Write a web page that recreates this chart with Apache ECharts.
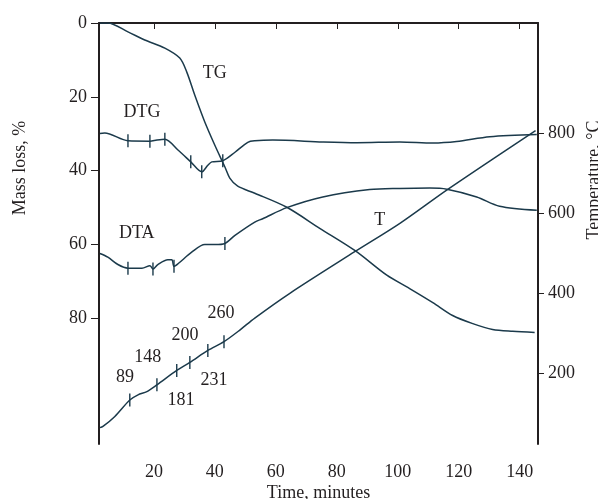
<!DOCTYPE html>
<html>
<head>
<meta charset="utf-8">
<script src="https://cdn.jsdelivr.net/npm/echarts@6/dist/echarts.min.js"></script>
<style>
  html, body { margin: 0; padding: 0; background: #fff; }
  #chart { width: 598px; height: 499px; }
</style>
</head>
<body>
<div id="chart"></div>
<script>
// 曲线数据 [时间(min), 值]
var tgData = [
  [2.3, 0], [4.9, 0], [11.5, 2.4], [17, 4.6], [23.6, 6.8], [28.5, 9.5],
  [30.8, 13.3], [33.4, 19.5], [36.7, 26.8], [40, 33.1], [43.3, 39],
  [44.9, 42], [47.5, 44.2], [53.1, 46.1], [63.6, 49.9], [74.4, 55.6],
  [85.9, 61.6], [96.4, 68.3], [103.9, 71.9], [111.5, 75.7], [118, 79.2],
  [124.6, 81.4], [131.1, 83], [137.7, 83.5], [144.9, 83.8]
];
var dtgData = [
  [2.3, 29.9], [3.9, 29.8], [11.5, 31.9], [18.7, 32], [21, 31.7], [23.6, 31.5],
  [27.9, 34.4], [32.1, 37.6], [35.7, 40.3], [37.7, 38.5], [39, 37.6],
  [42.6, 37.3], [46.6, 35], [50.8, 32.3], [53.1, 31.9], [59, 31.7],
  [75.4, 32.2], [86.6, 32.4], [100.7, 32.2], [111.5, 32.5], [119.3, 32.1],
  [130.2, 30.8], [145.6, 30.2]
];
var dtaData = [
  [2.3, 62.4], [4.9, 63.4], [8.2, 65.4], [11.5, 66.4], [16.1, 66.4], [18.7, 65.7],
  [19.7, 66.6], [21.3, 65.4], [24.6, 64.1], [25.9, 64.1], [26.6, 65.9],
  [27.9, 65.2], [32.5, 62], [36.7, 60], [40, 60], [43.3, 59.7], [46.6, 57.5],
  [53.1, 53.9], [55.7, 53], [63.6, 50], [75.4, 47.1], [90.8, 45.1],
  [100.7, 44.8], [110.5, 44.7], [116.1, 45], [125.9, 47.1], [133.4, 49.6],
  [145.6, 50.7]
];
// 温度 (°C)
var tData = [
  [2.3, 63], [3.3, 66], [7.2, 91], [12.1, 132], [14.8, 145], [17.7, 153],
  [21, 170], [27.5, 206], [31.8, 226], [37.7, 256], [43, 278], [48.2, 307],
  [53.1, 337], [64.6, 399], [85.9, 503], [100.7, 574], [116.4, 659], [145.2, 806]
];

// 曲线上的短竖线标记
var dtgTicks = [[11.5, 31.9], [18.7, 32], [23.6, 31.5], [32.1, 37.6], [35.7, 40.3], [42.6, 37.3]];
var dtaTicks = [[11.5, 66.4], [19.7, 66.6], [26.6, 65.9], [43.3, 59.7]];
var tTicks = [[12.1, 132], [21, 170], [27.5, 206], [31.8, 226], [37.7, 256], [43, 278]];

// 文字标注 [x, y(质量损失坐标), 文本]
var notes = [
  [40, 13.6, 'TG'], [16.1, 24.1, 'DTG'], [14.4, 57, 'DTA'], [94.1, 53.4, 'T'],
  [10.5, 96, '89'], [18, 90.6, '148'], [30.2, 84.6, '200'], [42, 78.6, '260'],
  [28.9, 102.2, '181'], [39.7, 96.8, '231']
];

var xTicks = [20, 40, 60, 80, 100, 120, 140];
var massTicks = [0, 20, 40, 60, 80];
var tempTicks = [200, 400, 600, 800];

var lineColor = '#1b3a4b';
var axisColor = '#231f20';
var font = 'Liberation Serif';

var myChart = echarts.init(document.getElementById('chart'));

function curve(data, yIdx) {
  return {
    type: 'line', data: data, yAxisIndex: yIdx, smooth: 0.3,
    showSymbol: false, silent: true,
    lineStyle: { color: lineColor, width: 1.5 }
  };
}
function ticks(data, yIdx) {
  return {
    type: 'scatter', data: data, yAxisIndex: yIdx, silent: true,
    symbol: 'rect', symbolSize: [1.4, 13],
    itemStyle: { color: lineColor, opacity: 1 }
  };
}

var option = {
  animation: false,
  textStyle: { fontFamily: font },
  grid: { left: 99, right: 60, top: 23, bottom: 55, outerBoundsMode: 'none', containLabel: false },
  xAxis: {
    type: 'value', min: 2, max: 146,
    name: 'Time, minutes', nameLocation: 'middle', nameGap: 40, nameMoveOverlap: false,
    nameTextStyle: { fontFamily: font, fontSize: 18, color: axisColor },
    splitLine: { show: false },
    axisLine: { lineStyle: { color: axisColor, width: 2 } },
    axisTick: { customValues: xTicks, length: 6, lineStyle: { color: axisColor } },
    axisLabel: { customValues: xTicks, margin: 19, fontFamily: font, fontSize: 18, color: axisColor }
  },
  yAxis: [
    {
      type: 'value', inverse: true, min: 0, max: 114, position: 'left',
      splitLine: { show: false },
      axisLine: { show: true, lineStyle: { color: axisColor, width: 2 } },
      axisTick: { show: true, customValues: massTicks, length: 8, lineStyle: { color: axisColor } },
      axisLabel: { customValues: massTicks, margin: 12, fontFamily: font, fontSize: 18, color: axisColor }
    },
    {
      type: 'value', min: 22, max: 1075, position: 'right',
      splitLine: { show: false },
      axisLine: { show: true, lineStyle: { color: axisColor, width: 2 } },
      axisTick: { show: true, customValues: tempTicks, length: 6, lineStyle: { color: axisColor } },
      axisLabel: { customValues: tempTicks, margin: 10, fontFamily: font, fontSize: 18, color: axisColor }
    }
  ],
  graphic: [
    {
      type: 'text', x: 20, y: 168, rotation: Math.PI / 2,
      style: { text: 'Mass loss, %', font: '18px "Liberation Serif"', fill: axisColor,
               textAlign: 'center', textVerticalAlign: 'middle' }
    },
    {
      type: 'text', x: 594, y: 180, rotation: Math.PI / 2,
      style: { text: 'Temperature, °C', font: '18px "Liberation Serif"', fill: axisColor,
               textAlign: 'center', textVerticalAlign: 'middle' }
    }
  ],
  series: [
    curve(tgData, 0),
    curve(dtgData, 0),
    curve(dtaData, 0),
    curve(tData, 1),
    ticks(dtgTicks, 0),
    ticks(dtaTicks, 0),
    ticks(tTicks, 1),
    {
      type: 'scatter', yAxisIndex: 0, silent: true, symbolSize: 0,
      itemStyle: { opacity: 1 },
      data: notes.map(function (n) { return { value: [n[0], n[1]], name: n[2] }; }),
      label: {
        show: true, position: 'inside', formatter: '{b}',
        fontFamily: font, fontSize: 18, color: axisColor
      }
    }
  ]
};

myChart.setOption(option);
</script>
</body>
</html>
